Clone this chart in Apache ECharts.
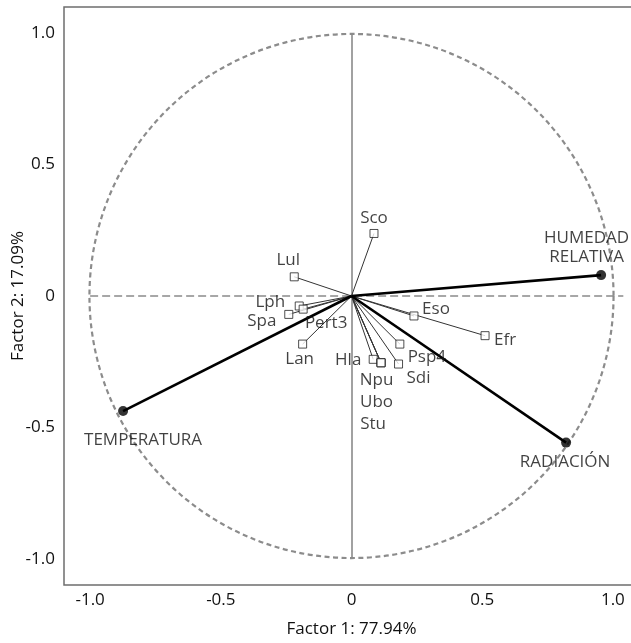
<!DOCTYPE html>
<html>
<head>
<meta charset="utf-8">
<script src="https://cdn.jsdelivr.net/npm/echarts@6/dist/echarts.min.js"></script>
<style>
html,body{margin:0;padding:0;background:#fff;}
#main{width:631px;height:643px;}
</style>
</head>
<body>
<div id="main"></div>
<script>
// ---- data ----
const speciesNames = ['Sco','Lul','Lph','Pert3','Spa','Lan','Eso','Efr','Hla','Npu','Ubo','Stu','Psp4','Sdi'];
const speciesF1 = [0.086,-0.219,-0.200,-0.185,-0.240,-0.187,0.239,0.511,0.083,0.113,0.113,0.113,0.185,0.180];
const speciesF2 = [0.238,0.073,-0.038,-0.050,-0.070,-0.183,-0.076,-0.151,-0.241,-0.254,-0.254,-0.254,-0.183,-0.259];

const variableNames = ['HUMEDAD RELATIVA','TEMPERATURA','RADIACIÓN'];
const variableF1 = [0.955,-0.874,0.821];
const variableF2 = [0.0795,-0.438,-0.558];

const xTicks = [-1.0,-0.5,0,0.5,1.0];
const yTicks = [-1.0,-0.5,0,0.5,1.0];
const xName = 'Factor 1: 77.94%';
const yName = 'Factor 2: 17.09%';

// ---- label placement (pixel offsets, styling only) ----
const labelOffsets = {
  'Sco':[0,-15], 'Lul':[-6,-17], 'Lph':[-29,-4], 'Pert3':[23,14], 'Spa':[-27,7],
  'Lan':[-3,15], 'Eso':[22,-7], 'Efr':[20,4], 'Hla':[-25,1], 'Npu':[-4.5,17],
  'Ubo':[-4.5,39], 'Stu':[-8,61], 'Psp4':[27,13], 'Sdi':[20,14],
  'HUMEDAD RELATIVA':[-14.5,-27.5], 'TEMPERATURA':[20,29.5], 'RADIACIÓN':[-1,20]
};

const FONT = 'Open Sans';
const TXT = '#111';

const fmt = v => (Math.abs(v) < 1e-9 ? '0' : v.toFixed(1));

const speciesData = speciesNames.map((n,i)=>({
  name:n, value:[speciesF1[i], speciesF2[i]],
  label:{offset:labelOffsets[n]}
}));
const variableData = variableNames.map((n,i)=>({
  name:n, value:[variableF1[i], variableF2[i]],
  label:{offset:labelOffsets[n]}
}));
const speciesLines = speciesNames.map((n,i)=>[{coord:[0,0]},{coord:[speciesF1[i], speciesF2[i]]}]);
const variableLines = variableNames.map((n,i)=>[{coord:[0,0]},{coord:[variableF1[i], variableF2[i]]}]);

const chart = echarts.init(document.getElementById('main'));

const labelBase = {show:true, position:'inside', formatter:p=>p.name.replace(' ', '\n'),
  fontFamily:FONT, fontSize:17, color:TXT, lineHeight:19, align:'center', verticalAlign:'middle'};

chart.setOption({
  animation:false,
  grid:{left:64, top:7, right:-8, bottom:58, show:true, borderColor:'#6e6e6e', borderWidth:1.5,
        containLabel:false, outerBoundsMode:'none'},
  xAxis:{type:'value', min:-1.1, max:1.1,
    name:xName, nameLocation:'middle', nameGap:36, nameMoveOverlap:false,
    nameTextStyle:{fontFamily:FONT, fontSize:17, color:TXT},
    axisLine:{show:false}, axisTick:{show:false}, splitLine:{show:false},
    axisLabel:{customValues:xTicks, formatter:fmt, margin:7, fontFamily:FONT, fontSize:17, color:TXT}},
  yAxis:{type:'value', min:-1.1, max:1.1,
    name:yName, nameLocation:'middle', nameGap:37, nameMoveOverlap:false,
    nameTextStyle:{fontFamily:FONT, fontSize:17, color:TXT},
    axisLine:{show:false}, axisTick:{show:false}, splitLine:{show:false},
    axisLabel:{customValues:yTicks, formatter:fmt, margin:9, fontFamily:FONT, fontSize:17, color:TXT}},
  series:[
    {type:'scatter', data:[[0,0]], symbolSize:0, z:1, silent:true,
     markLine:{silent:true, symbol:['none','none'], label:{show:false}, animation:false,
       data:[
         [{coord:[-1,0], lineStyle:{type:[8,4], color:'#8a8a8a', width:1.6}},{coord:[1.04,0], lineStyle:{type:[8,4], color:'#8a8a8a', width:1.6}}],
         [{coord:[0,1], lineStyle:{type:'solid', color:'#8a8a8a', width:1.6}},{coord:[0,-1], lineStyle:{type:'solid', color:'#8a8a8a', width:1.6}}]
       ]}},
    {type:'scatter', data:[[0,0]], symbolSize:0, z:2, silent:true,
     markLine:{silent:true, symbol:['none','none'], label:{show:false}, animation:false,
       lineStyle:{type:'solid', color:'#333', width:1}, data:speciesLines}},
    {type:'scatter', data:[[0,0]], symbolSize:0, z:3, silent:true,
     markLine:{silent:true, symbol:['none','none'], label:{show:false}, animation:false,
       lineStyle:{type:'solid', color:'#000', width:2.6}, data:variableLines}},
    {type:'scatter', z:5, symbol:'rect', symbolSize:8,
     itemStyle:{color:'#fff', borderColor:'#222', borderWidth:1},
     label:labelBase, data:speciesData},
    {type:'scatter', z:6, symbol:'circle', symbolSize:10,
     itemStyle:{color:'#000'},
     label:labelBase, data:variableData}
  ]
});

const c = chart.convertToPixel({gridIndex:0},[0,0]);
const e = chart.convertToPixel({gridIndex:0},[1,0]);
const t = chart.convertToPixel({gridIndex:0},[0,1]);
const r = ((e[0]-c[0]) + (c[1]-t[1]))/2;
chart.setOption({graphic:[{type:'circle', silent:true, z:0,
  shape:{cx:c[0], cy:c[1], r:r},
  style:{fill:'transparent', stroke:'#8c8c8c', lineWidth:2.2, lineDash:[5,3.5]}}]});
</script>
</body>
</html>
